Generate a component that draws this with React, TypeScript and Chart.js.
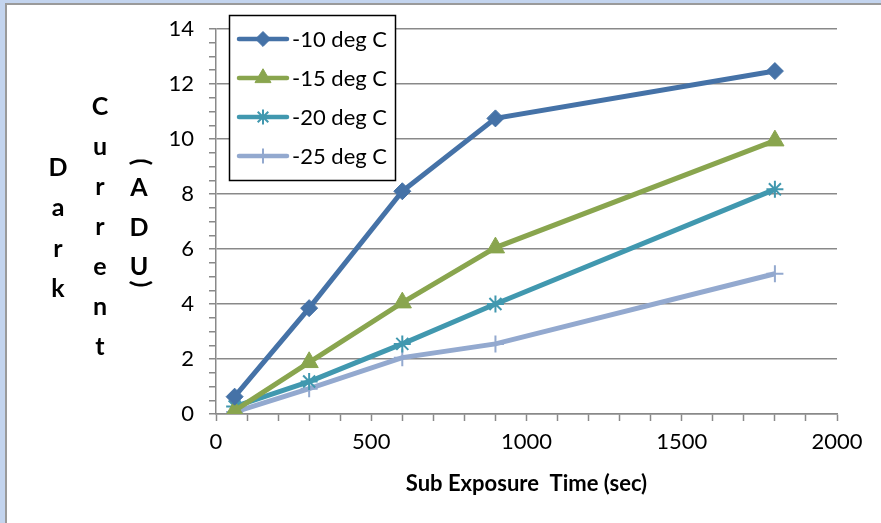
import React, { useEffect, useRef } from 'react';
import { Chart, registerables } from 'chart.js';
import { drawPoint } from 'chart.js/helpers';

Chart.register(...registerables);

const exposureTimes = [60, 300, 600, 900, 1800];
const seriesLabels = ['-10 deg C', '-15 deg C', '-20 deg C', '-25 deg C'];
const minus10 = [0.63, 3.85, 8.1, 10.75, 12.47];
const minus15 = [0.12, 1.88, 4.05, 6.05, 9.94];
const minus20 = [0.27, 1.18, 2.55, 4.0, 8.17];
const minus25 = [0.07, 0.92, 2.05, 2.55, 5.1];
const xTickLabels = [0, 500, 1000, 1500, 2000];
const yTickLabels = [0, 2, 4, 6, 8, 10, 12, 14];
const xTitle = 'Sub Exposure  Time (sec)';
const yTitleWords = ['Dark', 'Current', '(ADU)'];

const seriesColors = ['#4572A7', '#89A54E', '#4198AF', '#93A9CF'];
const seriesStyles = ['rectRot', 'triangle', 'star', 'cross'];
const seriesRadius = [8.5, 10.5, 8.5, 8.5];
const seriesPointBorder = [1, 1, 2, 2];

const AXIS_GRAY = '#898989';
const FONT = 'Lato, "Open Sans", sans-serif';

const framePlugin = {
  id: 'frame',
  beforeDraw(chart: any) {
    const ctx = chart.ctx;
    const w = chart.width;
    const h = chart.height;
    ctx.save();
    ctx.fillStyle = '#ffffff';
    ctx.fillRect(0, 0, w, h);
    ctx.fillStyle = '#C3D4EE';
    ctx.fillRect(0, 0, 5, h);
    ctx.fillRect(0, 0, w, 3);
    ctx.fillStyle = '#9a9a9a';
    ctx.fillRect(5, 3, 2, h - 3);
    ctx.fillRect(5, 3, w - 5, 2);
    ctx.restore();
  },
};

const yTitlePlugin = {
  id: 'yTitleStack',
  afterDraw(chart: any) {
    const ctx = chart.ctx;
    ctx.save();
    ctx.fillStyle = '#000';
    ctx.font = 'bold 25px ' + FONT;
    ctx.textAlign = 'center';
    ctx.textBaseline = 'middle';
    const cols = [
      { x: 58, y0: 168, step: 40.3 },
      { x: 100, y0: 107, step: 40 },
    ];
    for (let i = 0; i < 2; i++) {
      const word = yTitleWords[i];
      for (let j = 0; j < word.length; j++) {
        ctx.fillText(word[j], cols[i].x, cols[i].y0 + j * cols[i].step);
      }
    }
    const w = yTitleWords[2];
    const inner = w.slice(1, w.length - 1);
    const x3 = 139;
    for (let j = 0; j < inner.length; j++) {
      ctx.fillText(inner[j], x3, 188 + j * 39.5);
    }
    const drawRot = (ch: string, x: number, y: number) => {
      ctx.save();
      ctx.translate(x, y);
      ctx.rotate(Math.PI / 2);
      ctx.fillText(ch, 0, 0);
      ctx.restore();
    };
    drawRot(w[0], x3 + 2, 162);
    drawRot(w[w.length - 1], x3 + 2, 284);
    ctx.restore();
  },
};

const legendPlugin = {
  id: 'boxLegend',
  afterDatasetsDraw(chart: any) {
    const ctx = chart.ctx;
    ctx.save();
    ctx.fillStyle = '#fff';
    ctx.fillRect(229.5, 15.5, 166, 165);
    ctx.strokeStyle = '#000';
    ctx.lineWidth = 1.5;
    ctx.strokeRect(229.5, 15.5, 166, 165);
    chart.data.datasets.forEach((ds: any, i: number) => {
      const y = 39 + i * 39;
      ctx.strokeStyle = ds.borderColor;
      ctx.lineWidth = 4.5;
      ctx.lineCap = 'round';
      ctx.beginPath();
      ctx.moveTo(239, y);
      ctx.lineTo(287, y);
      ctx.stroke();
      ctx.lineCap = 'butt';
      ctx.fillStyle = ds.pointBackgroundColor;
      ctx.strokeStyle = ds.pointBorderColor;
      ctx.lineWidth = ds.pointBorderWidth;
      drawPoint(ctx, {
        pointStyle: ds.pointStyle,
        radius: ds.pointRadius * 0.88,
        rotation: 0,
        borderWidth: ds.pointBorderWidth,
      } as any, 263, y);
      ctx.fillStyle = '#000';
      ctx.font = '22px ' + FONT;
      ctx.textAlign = 'left';
      ctx.textBaseline = 'middle';
      ctx.fillText(ds.label, 292, y + 1);
    });
    ctx.restore();
  },
};

export default function App() {
  const canvasRef = useRef<HTMLCanvasElement | null>(null);

  useEffect(() => {
    const canvas = canvasRef.current;
    if (!canvas) return;
    const seriesValues = [minus10, minus15, minus20, minus25];
    const chart = new Chart(canvas, {
      type: 'line',
      data: {
        datasets: seriesValues.map((vals, i) => ({
          label: seriesLabels[i],
          data: exposureTimes.map((x, k) => ({ x, y: vals[k] })),
          borderColor: seriesColors[i],
          backgroundColor: seriesColors[i],
          pointBackgroundColor: seriesColors[i],
          pointBorderColor: seriesColors[i],
          pointStyle: seriesStyles[i] as any,
          pointRadius: seriesRadius[i],
          pointBorderWidth: seriesPointBorder[i],
          borderWidth: 5,
          tension: 0,
          fill: false,
        })),
      },
      options: {
        responsive: false,
        animation: false,
        devicePixelRatio: 1,
        layout: { padding: { left: 150, top: 29, right: 44, bottom: 0 } },
        plugins: {
          legend: { display: false },
          tooltip: { enabled: false },
        },
        scales: {
          x: {
            type: 'linear',
            min: 0,
            max: 2000,
            ticks: {
              stepSize: 100,
              autoSkip: false,
              maxRotation: 0,
              color: '#000',
              font: { family: FONT, size: 22 },
              padding: 8,
              callback: (v: any) => (xTickLabels.includes(Number(v)) ? String(v) : ''),
            },
            grid: {
              drawOnChartArea: false,
              tickLength: 7,
              tickColor: AXIS_GRAY,
              tickWidth: 1.5,
              color: AXIS_GRAY,
            },
            border: { color: AXIS_GRAY, width: 1.5 },
            title: {
              display: true,
              text: xTitle,
              color: '#000',
              font: { family: FONT, size: 22, weight: 'bold' },
              padding: { top: 0, bottom: 26 },
            },
            afterFit: (scale: any) => {
              scale.height = 109;
            },
          },
          y: {
            type: 'linear',
            min: 0,
            max: 14,
            ticks: {
              stepSize: 0.5,
              autoSkip: false,
              color: '#000',
              font: { family: FONT, size: 22 },
              padding: 15,
              callback: (v: any) => (yTickLabels.includes(Number(v)) ? String(v) : ''),
            },
            grid: {
              color: (c: any) =>
                c.tick && yTickLabels.includes(Number(c.tick.value)) ? AXIS_GRAY : 'rgba(0,0,0,0)',
              lineWidth: 1.5,
              tickLength: 7,
              tickColor: AXIS_GRAY,
              tickWidth: 1.5,
            },
            border: { color: AXIS_GRAY, width: 1.5 },
            afterFit: (scale: any) => {
              scale.width = 66;
            },
          },
        },
      },
      plugins: [framePlugin, legendPlugin, yTitlePlugin],
    });
    return () => chart.destroy();
  }, []);

  return (
    <div style={{ position: 'absolute', left: 0, top: 0, width: 881, height: 523 }}>
      <canvas ref={canvasRef} width={881} height={523} style={{ display: 'block' }} />
    </div>
  );
}
